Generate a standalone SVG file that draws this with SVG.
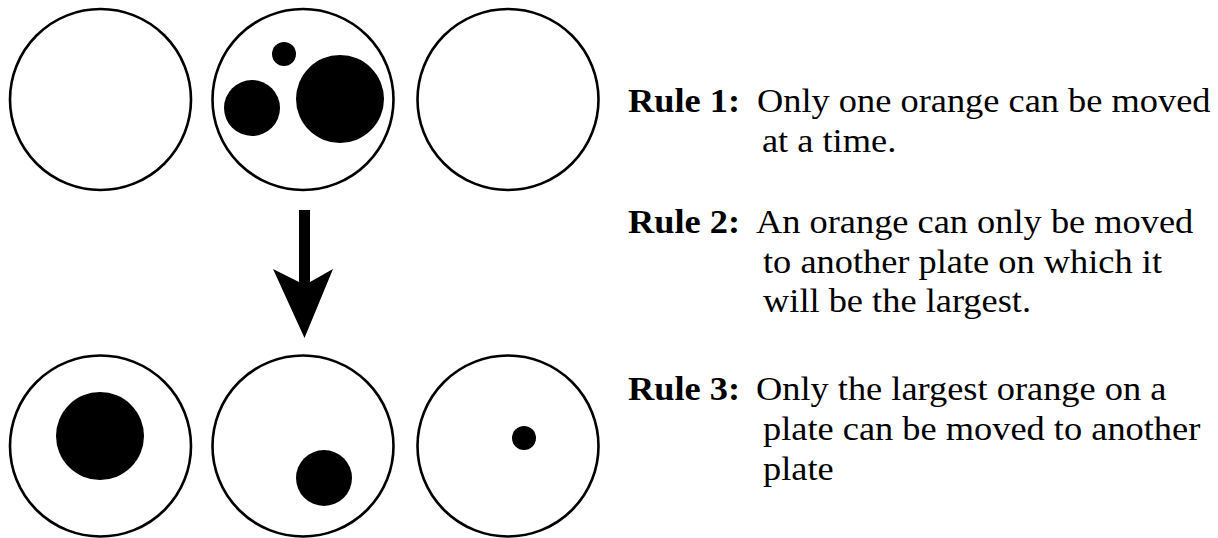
<svg xmlns="http://www.w3.org/2000/svg" width="1218" height="538" viewBox="0 0 1218 538">
<style>
.plate{fill:#fff;stroke:#000;stroke-width:2.6}
.orange{fill:#000}
text{font-family:"Liberation Serif","Times New Roman",serif;font-size:34px;fill:#000}
.b{font-weight:bold}
</style>
<rect width="1218" height="538" fill="#fff"/>
<g id="top-plate-1"><circle class="plate" cx="100.5" cy="99.5" r="90.5"/></g>
<g id="top-plate-2"><circle class="plate" cx="303" cy="99.5" r="90.5"/>
<circle class="orange" cx="284" cy="54" r="12"/>
<circle class="orange" cx="252" cy="108" r="28"/>
<circle class="orange" cx="340" cy="99" r="44"/></g>
<g id="top-plate-3"><circle class="plate" cx="508" cy="99.5" r="90.5"/></g>
<g id="bottom-plate-1"><circle class="plate" cx="100.5" cy="446" r="90.5"/>
<circle class="orange" cx="100" cy="436" r="44"/></g>
<g id="bottom-plate-2"><circle class="plate" cx="303" cy="446" r="90.5"/>
<circle class="orange" cx="324" cy="478" r="28"/></g>
<g id="bottom-plate-3"><circle class="plate" cx="508" cy="446" r="90.5"/>
<circle class="orange" cx="524" cy="438" r="12"/></g>
<g id="connectors">
<path d="M299,210 H310 V282 L333,269 L304.5,338 L273,269 L299,282 Z" fill="#000"/>
</g>
<g id="rules" transform="scale(1.07 1)">
<text x="586.9" y="112" class="b">Rule 1:</text>
<text x="707.5" y="112">Only one orange can be moved</text>
<text x="712.1" y="152">at a time.</text>
<text x="586.9" y="233" class="b">Rule 2:</text>
<text x="706.5" y="233">An orange can only be moved</text>
<text x="713.1" y="273">to another plate on which it</text>
<text x="713.1" y="312">will be the largest.</text>
<text x="586.9" y="400" class="b">Rule 3:</text>
<text x="706.5" y="400">Only the largest orange on a</text>
<text x="713.1" y="440">plate can be moved to another</text>
<text x="713.1" y="480">plate</text>
</g>
</svg>
